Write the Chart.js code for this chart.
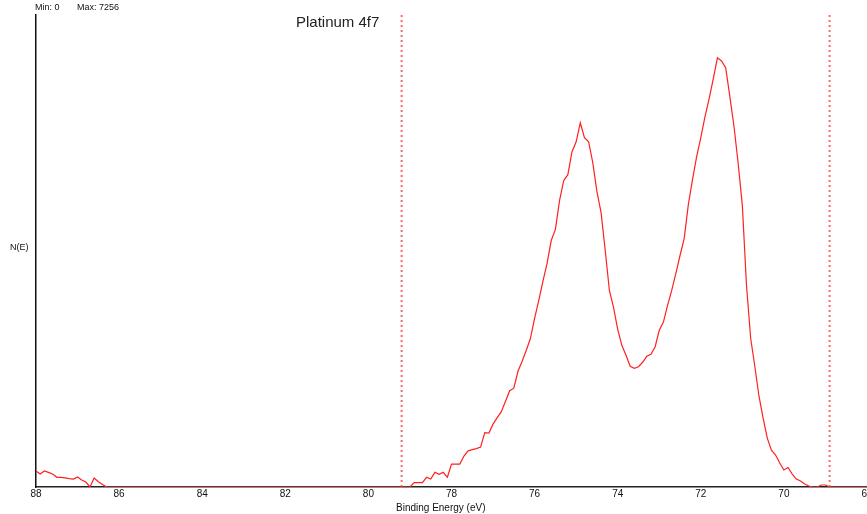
<!DOCTYPE html>
<html>
<head>
<meta charset="utf-8">
<script src="https://cdn.jsdelivr.net/npm/chart.js@4.4.1/dist/chart.umd.min.js"></script>
<style>
  html, body { margin: 0; padding: 0; background: #fff; overflow: hidden; }
  #wrap { position: relative; width: 900px; height: 514px; }
</style>
</head>
<body>
<div id="wrap"><canvas id="c" width="900" height="514"></canvas></div>
<script>
// Binding energy (eV) of each sample
const energy = [
  88.0, 87.9, 87.8, 87.7, 87.6, 87.5, 87.4, 87.3, 87.2, 87.1, 87.0, 86.9, 86.8, 86.7, 86.6, 86.5, 86.4, 86.3,
  79.0, 78.9, 78.8, 78.7, 78.6, 78.5, 78.4, 78.3, 78.2, 78.1, 78.0,
  77.9, 77.8, 77.7, 77.6, 77.5, 77.4, 77.3, 77.2, 77.1, 77.0,
  76.9, 76.8, 76.7, 76.6, 76.5, 76.4, 76.3, 76.2, 76.1, 76.0,
  75.9, 75.8, 75.7, 75.6, 75.5, 75.4, 75.3, 75.2, 75.1, 75.0,
  74.9, 74.8, 74.7, 74.6, 74.5, 74.4, 74.3, 74.2, 74.1, 74.0,
  73.9, 73.8, 73.7, 73.6, 73.5, 73.4, 73.3, 73.2, 73.1, 73.0,
  72.9, 72.8, 72.7, 72.6, 72.5, 72.4, 72.3, 72.2, 72.1, 72.0,
  71.9, 71.8, 71.7, 71.6, 71.5, 71.4, 71.3, 71.2, 71.1, 71.0,
  70.9, 70.8, 70.7, 70.6, 70.5, 70.4, 70.3, 70.2, 70.1, 70.0,
  69.9, 69.8, 69.7, 69.6, 69.5, 69.4, 69.3, 69.2, 69.1, 69.0,
  68.9, 68.0
];
// N(E) counts
const counts = [
  270, 219, 270, 248, 219, 164, 164, 155, 143, 135, 169, 118, 84, 0, 152, 89, 42, 0,
  0, 73, 73, 73, 164, 135, 248, 214, 248, 164, 388,
  388, 388, 523, 612, 633, 650, 675, 919, 911, 1063,
  1172, 1274, 1451, 1628, 1670, 1957, 2126, 2311, 2514, 2851,
  3155, 3475, 3779, 4167, 4352, 4842, 5179, 5280, 5668, 5837,
  6158, 5905, 5837, 5483, 4993, 4639, 3998, 3323, 3037, 2665,
  2396, 2227, 2041, 2008, 2033, 2109, 2210, 2244, 2367, 2649,
  2789, 3070, 3323, 3610, 3914, 4201, 4774, 5196, 5584, 5905,
  6259, 6562, 6900, 7256, 7204, 7086, 6596, 6090, 5466, 4757,
  3408, 2514, 2041, 1535, 1164, 827, 624, 540, 405, 287,
  329, 219, 135, 101, 51, 17, 0, 0, 34, 34,
  0, 0
];
// Region markers (eV)
const markers = [79.2, 68.9];
// Axis settings
const xMin = 68, xMax = 88, xStep = 2;
const yMin = 0, yMax = 7980;
const countMin = 0, countMax = 7256;

const spectrum = energy.map((e, i) => ({ x: e, y: counts[i] }));
const markerSets = markers.map(m => ({
  data: [{ x: m, y: yMin }, { x: m, y: yMax }],
  borderColor: 'rgba(255,80,80,0.85)',
  borderWidth: 2,
  borderDash: [2, 3],
  borderCapStyle: 'butt',
  pointRadius: 0,
  tension: 0,
  order: 2
}));

const textPlugin = {
  id: 'texts',
  afterDraw(chart) {
    const ctx = chart.ctx;
    ctx.save();
    ctx.fillStyle = '#111';
    ctx.textBaseline = 'middle';
    ctx.textAlign = 'left';
    ctx.font = '9px "Liberation Sans", Arial, sans-serif';
    ctx.fillText('Min: ' + countMin, 35, 8);
    ctx.fillText('Max: ' + countMax, 77, 8);
    ctx.fillText('N(E)', 10, 248);
    ctx.font = '15px "Liberation Sans", Arial, sans-serif';
    ctx.fillStyle = '#222';
    ctx.fillText('Platinum 4f7', 296, 23);
    ctx.font = '10px "Liberation Sans", Arial, sans-serif';
    ctx.fillStyle = '#111';
    ctx.fillText('Binding Energy (eV)', 396, 508);
    ctx.restore();
  }
};

new Chart(document.getElementById('c'), {
  type: 'line',
  data: {
    datasets: [
      {
        data: spectrum,
        borderColor: '#ff2020',
        borderWidth: 1.2,
        pointRadius: 0,
        tension: 0,
        order: 1
      },
      ...markerSets
    ]
  },
  options: {
    responsive: false,
    animation: false,
    events: [],
    layout: { padding: { left: 36, right: 33, top: 15, bottom: 0 } },
    plugins: { legend: { display: false }, tooltip: { enabled: false }, title: { display: false } },
    scales: {
      x: {
        type: 'linear',
        reverse: true,
        min: xMin, max: xMax,
        grid: { display: false, drawTicks: false },
        border: { display: true, color: '#222', width: 1.5 },
        ticks: {
          stepSize: xStep,
          autoSkip: false,
          maxRotation: 0,
          padding: 1,
          color: '#111',
          font: { family: '"Liberation Sans", Arial, sans-serif', size: 10 }
        },
        afterFit(s) { s.height = 27; s.paddingLeft = 0; s.paddingRight = 0; }
      },
      y: {
        type: 'linear',
        min: yMin, max: yMax,
        grid: { display: false, drawTicks: false },
        border: { display: true, color: '#111', width: 1.5 },
        ticks: { display: false },
        afterFit(s) { s.width = 0; s.paddingTop = 0; s.paddingBottom = 0; }
      }
    }
  },
  plugins: [textPlugin]
});
</script>
</body>
</html>
